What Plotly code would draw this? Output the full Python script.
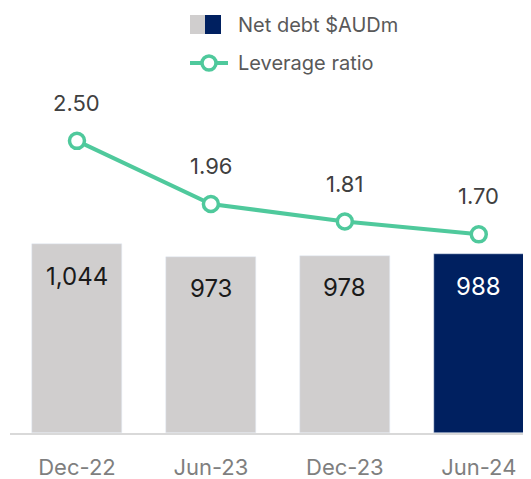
import plotly.graph_objects as go

periods = ['Dec-22', 'Jun-23', 'Dec-23', 'Jun-24']
net_debt = [1044, 973, 978, 988]
leverage = [2.50, 1.96, 1.81, 1.70]

GREY = '#d0cece'
NAVY = '#002060'
GREEN = '#4fc99c'
FONT = 'Inter'

bar_colors = [GREY, GREY, GREY, NAVY]
bar_text_colors = ['#1a1a1a', '#1a1a1a', '#1a1a1a', '#ffffff']

fig = go.Figure()

fig.add_trace(go.Bar(
    x=periods,
    y=net_debt,
    marker_color=bar_colors,
    width=0.67,
    showlegend=False,
    hoverinfo='skip'
))

fig.add_trace(go.Scatter(
    x=periods,
    y=leverage,
    yaxis='y2',
    mode='lines+markers',
    line=dict(color=GREEN, width=4),
    marker=dict(size=15, color='white', line=dict(color=GREEN, width=3.5)),
    showlegend=False,
    hoverinfo='skip'
))

annotations = []
# bar value labels, inside near the top
for p, v, c in zip(periods, net_debt, bar_text_colors):
    annotations.append(dict(
        x=p, y=v, xref='x', yref='y', text=f'{v:,}', showarrow=False,
        yshift=-32, font=dict(family=FONT, size=24, color=c)
    ))
# leverage labels above markers
for p, v in zip(periods, leverage):
    annotations.append(dict(
        x=p, y=v, xref='x', yref='y2', text=f'{v:.2f}', showarrow=False,
        yshift=38, font=dict(family=FONT, size=22, color='#404040')
    ))

# hand-built legend (positions in reference pixels, converted below)
legend_font = dict(family=FONT, size=20, color='#595959')
legend_items = [
    dict(x=236, y=25, text='Net debt $AUDm'),
    dict(x=236, y=63, text='Leverage ratio'),
]


def px(x):
    return (x - 10) / 521


def py(y):
    return (433 - y) / 423


for item in legend_items:
    annotations.append(dict(
        x=px(item['x']), y=py(item['y']), xref='paper', yref='paper',
        text=item['text'], showarrow=False, xanchor='left', yanchor='middle',
        font=legend_font
    ))

# page body adds an 8px margin, so the figure is 8px smaller than the window
fig.update_layout(
    width=523,
    height=471,
    margin=dict(l=2, r=0, t=2, b=46),
    plot_bgcolor='white',
    paper_bgcolor='white',
    bargap=0,
    font=dict(family=FONT),
    xaxis=dict(
        type='category',
        range=[-0.5, 3.39],
        showline=True,
        linecolor='#d9d9d9',
        linewidth=2,
        ticks='',
        tickfont=dict(family=FONT, size=22, color='#7f7f7f'),
        ticklabelstandoff=14,
        showgrid=False,
        zeroline=False
    ),
    yaxis=dict(range=[0, 2337], visible=False, showgrid=False, zeroline=False),
    yaxis2=dict(range=[0, 3.62], overlaying='y', visible=False,
                showgrid=False, zeroline=False),
    annotations=annotations
)

fig.add_shape(type='rect', xref='paper', yref='paper',
              x0=px(190), x1=px(205), y0=py(34), y1=py(15),
              fillcolor=GREY, line_width=0)
fig.add_shape(type='rect', xref='paper', yref='paper',
              x0=px(205), x1=px(221), y0=py(34), y1=py(15),
              fillcolor=NAVY, line_width=0)
fig.add_shape(type='line', xref='paper', yref='paper',
              x0=px(190), x1=px(228), y0=py(63), y1=py(63),
              line=dict(color=GREEN, width=4))
fig.add_shape(type='circle', xref='paper', yref='paper',
              x0=px(202), x1=px(216), y0=py(70), y1=py(56),
              fillcolor='white', line=dict(color=GREEN, width=3.5))

fig.write_html('out.html')
